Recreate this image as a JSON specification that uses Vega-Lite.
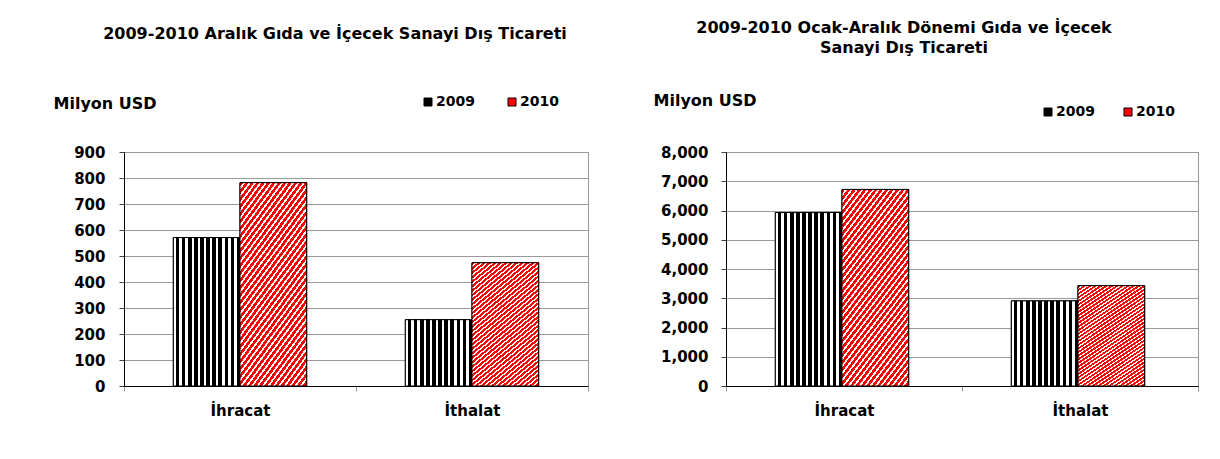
{
  "$schema": "https://vega.github.io/schema/vega-lite/v6.json",
  "background": "white",
  "padding": {"left": 52, "top": 19, "right": 5, "bottom": 5},
  "params": [
    {"name": "gradA", "value": {"gradient": "linear", "x1": 0, "y1": 0, "x2": 1, "y2": 0, "stops": [
      {"offset": 0, "color": "#fff"}, {"offset": 0.0409, "color": "#fff"}, {"offset": 0.0409, "color": "#000"}, {"offset": 0.0909, "color": "#000"},
      {"offset": 0.0909, "color": "#fff"}, {"offset": 0.1318, "color": "#fff"}, {"offset": 0.1318, "color": "#000"}, {"offset": 0.1818, "color": "#000"},
      {"offset": 0.1818, "color": "#fff"}, {"offset": 0.2227, "color": "#fff"}, {"offset": 0.2227, "color": "#000"}, {"offset": 0.2727, "color": "#000"},
      {"offset": 0.2727, "color": "#fff"}, {"offset": 0.3136, "color": "#fff"}, {"offset": 0.3136, "color": "#000"}, {"offset": 0.3636, "color": "#000"},
      {"offset": 0.3636, "color": "#fff"}, {"offset": 0.4045, "color": "#fff"}, {"offset": 0.4045, "color": "#000"}, {"offset": 0.4545, "color": "#000"},
      {"offset": 0.4545, "color": "#fff"}, {"offset": 0.4955, "color": "#fff"}, {"offset": 0.4955, "color": "#000"}, {"offset": 0.5455, "color": "#000"},
      {"offset": 0.5455, "color": "#fff"}, {"offset": 0.5864, "color": "#fff"}, {"offset": 0.5864, "color": "#000"}, {"offset": 0.6364, "color": "#000"},
      {"offset": 0.6364, "color": "#fff"}, {"offset": 0.6773, "color": "#fff"}, {"offset": 0.6773, "color": "#000"}, {"offset": 0.7273, "color": "#000"},
      {"offset": 0.7273, "color": "#fff"}, {"offset": 0.7682, "color": "#fff"}, {"offset": 0.7682, "color": "#000"}, {"offset": 0.8182, "color": "#000"},
      {"offset": 0.8182, "color": "#fff"}, {"offset": 0.8591, "color": "#fff"}, {"offset": 0.8591, "color": "#000"}, {"offset": 0.9091, "color": "#000"},
      {"offset": 0.9091, "color": "#fff"}, {"offset": 0.95, "color": "#fff"}, {"offset": 0.95, "color": "#000"}, {"offset": 1, "color": "#000"}
    ]}},
    {"name": "gradB", "value": {"gradient": "linear", "x1": 0, "y1": 0, "x2": 0.54, "y2": 1.21, "stops": [
      {"offset": 0, "color": "#f00"}, {"offset": 0.015, "color": "#f00"}, {"offset": 0.015, "color": "#fff"}, {"offset": 0.025, "color": "#fff"},
      {"offset": 0.025, "color": "#f00"}, {"offset": 0.04, "color": "#f00"}, {"offset": 0.04, "color": "#fff"}, {"offset": 0.05, "color": "#fff"},
      {"offset": 0.05, "color": "#f00"}, {"offset": 0.065, "color": "#f00"}, {"offset": 0.065, "color": "#fff"}, {"offset": 0.075, "color": "#fff"},
      {"offset": 0.075, "color": "#f00"}, {"offset": 0.09, "color": "#f00"}, {"offset": 0.09, "color": "#fff"}, {"offset": 0.1, "color": "#fff"},
      {"offset": 0.1, "color": "#f00"}, {"offset": 0.115, "color": "#f00"}, {"offset": 0.115, "color": "#fff"}, {"offset": 0.125, "color": "#fff"},
      {"offset": 0.125, "color": "#f00"}, {"offset": 0.14, "color": "#f00"}, {"offset": 0.14, "color": "#fff"}, {"offset": 0.15, "color": "#fff"},
      {"offset": 0.15, "color": "#f00"}, {"offset": 0.165, "color": "#f00"}, {"offset": 0.165, "color": "#fff"}, {"offset": 0.175, "color": "#fff"},
      {"offset": 0.175, "color": "#f00"}, {"offset": 0.19, "color": "#f00"}, {"offset": 0.19, "color": "#fff"}, {"offset": 0.2, "color": "#fff"},
      {"offset": 0.2, "color": "#f00"}, {"offset": 0.215, "color": "#f00"}, {"offset": 0.215, "color": "#fff"}, {"offset": 0.225, "color": "#fff"},
      {"offset": 0.225, "color": "#f00"}, {"offset": 0.24, "color": "#f00"}, {"offset": 0.24, "color": "#fff"}, {"offset": 0.25, "color": "#fff"},
      {"offset": 0.25, "color": "#f00"}, {"offset": 0.265, "color": "#f00"}, {"offset": 0.265, "color": "#fff"}, {"offset": 0.275, "color": "#fff"},
      {"offset": 0.275, "color": "#f00"}, {"offset": 0.29, "color": "#f00"}, {"offset": 0.29, "color": "#fff"}, {"offset": 0.3, "color": "#fff"},
      {"offset": 0.3, "color": "#f00"}, {"offset": 0.315, "color": "#f00"}, {"offset": 0.315, "color": "#fff"}, {"offset": 0.325, "color": "#fff"},
      {"offset": 0.325, "color": "#f00"}, {"offset": 0.34, "color": "#f00"}, {"offset": 0.34, "color": "#fff"}, {"offset": 0.35, "color": "#fff"},
      {"offset": 0.35, "color": "#f00"}, {"offset": 0.365, "color": "#f00"}, {"offset": 0.365, "color": "#fff"}, {"offset": 0.375, "color": "#fff"},
      {"offset": 0.375, "color": "#f00"}, {"offset": 0.39, "color": "#f00"}, {"offset": 0.39, "color": "#fff"}, {"offset": 0.4, "color": "#fff"},
      {"offset": 0.4, "color": "#f00"}, {"offset": 0.415, "color": "#f00"}, {"offset": 0.415, "color": "#fff"}, {"offset": 0.425, "color": "#fff"},
      {"offset": 0.425, "color": "#f00"}, {"offset": 0.44, "color": "#f00"}, {"offset": 0.44, "color": "#fff"}, {"offset": 0.45, "color": "#fff"},
      {"offset": 0.45, "color": "#f00"}, {"offset": 0.465, "color": "#f00"}, {"offset": 0.465, "color": "#fff"}, {"offset": 0.475, "color": "#fff"},
      {"offset": 0.475, "color": "#f00"}, {"offset": 0.49, "color": "#f00"}, {"offset": 0.49, "color": "#fff"}, {"offset": 0.5, "color": "#fff"},
      {"offset": 0.5, "color": "#f00"}, {"offset": 0.515, "color": "#f00"}, {"offset": 0.515, "color": "#fff"}, {"offset": 0.525, "color": "#fff"},
      {"offset": 0.525, "color": "#f00"}, {"offset": 0.54, "color": "#f00"}, {"offset": 0.54, "color": "#fff"}, {"offset": 0.55, "color": "#fff"},
      {"offset": 0.55, "color": "#f00"}, {"offset": 0.565, "color": "#f00"}, {"offset": 0.565, "color": "#fff"}, {"offset": 0.575, "color": "#fff"},
      {"offset": 0.575, "color": "#f00"}, {"offset": 0.59, "color": "#f00"}, {"offset": 0.59, "color": "#fff"}, {"offset": 0.6, "color": "#fff"},
      {"offset": 0.6, "color": "#f00"}, {"offset": 0.615, "color": "#f00"}, {"offset": 0.615, "color": "#fff"}, {"offset": 0.625, "color": "#fff"},
      {"offset": 0.625, "color": "#f00"}, {"offset": 0.64, "color": "#f00"}, {"offset": 0.64, "color": "#fff"}, {"offset": 0.65, "color": "#fff"},
      {"offset": 0.65, "color": "#f00"}, {"offset": 0.665, "color": "#f00"}, {"offset": 0.665, "color": "#fff"}, {"offset": 0.675, "color": "#fff"},
      {"offset": 0.675, "color": "#f00"}, {"offset": 0.69, "color": "#f00"}, {"offset": 0.69, "color": "#fff"}, {"offset": 0.7, "color": "#fff"},
      {"offset": 0.7, "color": "#f00"}, {"offset": 0.715, "color": "#f00"}, {"offset": 0.715, "color": "#fff"}, {"offset": 0.725, "color": "#fff"},
      {"offset": 0.725, "color": "#f00"}, {"offset": 0.74, "color": "#f00"}, {"offset": 0.74, "color": "#fff"}, {"offset": 0.75, "color": "#fff"},
      {"offset": 0.75, "color": "#f00"}, {"offset": 0.765, "color": "#f00"}, {"offset": 0.765, "color": "#fff"}, {"offset": 0.775, "color": "#fff"},
      {"offset": 0.775, "color": "#f00"}, {"offset": 0.79, "color": "#f00"}, {"offset": 0.79, "color": "#fff"}, {"offset": 0.8, "color": "#fff"},
      {"offset": 0.8, "color": "#f00"}, {"offset": 0.815, "color": "#f00"}, {"offset": 0.815, "color": "#fff"}, {"offset": 0.825, "color": "#fff"},
      {"offset": 0.825, "color": "#f00"}, {"offset": 0.84, "color": "#f00"}, {"offset": 0.84, "color": "#fff"}, {"offset": 0.85, "color": "#fff"},
      {"offset": 0.85, "color": "#f00"}, {"offset": 0.865, "color": "#f00"}, {"offset": 0.865, "color": "#fff"}, {"offset": 0.875, "color": "#fff"},
      {"offset": 0.875, "color": "#f00"}, {"offset": 0.89, "color": "#f00"}, {"offset": 0.89, "color": "#fff"}, {"offset": 0.9, "color": "#fff"},
      {"offset": 0.9, "color": "#f00"}, {"offset": 0.915, "color": "#f00"}, {"offset": 0.915, "color": "#fff"}, {"offset": 0.925, "color": "#fff"},
      {"offset": 0.925, "color": "#f00"}, {"offset": 0.94, "color": "#f00"}, {"offset": 0.94, "color": "#fff"}, {"offset": 0.95, "color": "#fff"},
      {"offset": 0.95, "color": "#f00"}, {"offset": 0.965, "color": "#f00"}, {"offset": 0.965, "color": "#fff"}, {"offset": 0.975, "color": "#fff"},
      {"offset": 0.975, "color": "#f00"}, {"offset": 0.99, "color": "#f00"}, {"offset": 0.99, "color": "#fff"}, {"offset": 1, "color": "#fff"}
    ]}}
  ],
  "hconcat": [
    {
      "title": {"text": "2009-2010 Aralık Gıda ve İçecek Sanayi Dış Ticareti", "dx": -21, "offset": 53},
      "width": 464,
      "height": 234,
      "data": {"values": [
        {"kategori": "İhracat", "yil": "2009", "deger": 571},
        {"kategori": "İhracat", "yil": "2010", "deger": 782},
        {"kategori": "İthalat", "yil": "2009", "deger": 255},
        {"kategori": "İthalat", "yil": "2010", "deger": 474}
      ]},
      "encoding": {
        "x": {"field": "kategori", "type": "nominal", "sort": null, "scale": {"paddingInner": 0, "paddingOuter": 0},
          "axis": {"title": null, "labelAngle": 0, "tickBand": "extent", "ticks": true, "tickColor": "#999", "tickSize": 5, "labelPadding": 12, "grid": false}},
        "xOffset": {"field": "yil", "type": "nominal", "scale": {"paddingInner": 0, "paddingOuter": 0.74}},
        "y": {"field": "deger", "type": "quantitative", "scale": {"domain": [0, 900], "nice": false},
          "axis": {"title": "Milyon USD", "titleAngle": 0, "titleAlign": "left", "titleBaseline": "middle", "titleX": -71, "titleY": -49,
            "values": [0, 100, 200, 300, 400, 500, 600, 700, 800, 900], "format": ".0f", "labelPadding": 14, "tickSize": 5, "tickColor": "#404040"}}
      },
      "layer": [
        {
          "mark": {"type": "bar", "stroke": "black", "strokeWidth": 1},
          "encoding": {
            "fill": {"field": "yil", "type": "nominal", "scale": {"range": ["#000000", "#ff0000"]},
              "legend": {"orient": "none", "legendX": 297, "legendY": -57, "direction": "horizontal", "title": null,
                "symbolType": "square", "symbolSize": 64, "symbolStrokeWidth": 1, "symbolStrokeColor": "black", "labelOffset": 1, "columnPadding": 30, "padding": 0}}
          }
        },
        {
          "mark": {"type": "bar", "stroke": "black", "strokeWidth": 1},
          "encoding": {
            "fill": {"condition": {"test": "datum.yil === '2009'", "value": {"expr": "gradA"}}, "value": {"expr": "gradB"}}
          }
        }
      ]
    },
    {
      "title": {"text": ["2009-2010 Ocak-Aralık Dönemi Gıda ve İçecek", "Sanayi Dış Ticareti"], "dx": -58, "offset": 36, "lineHeight": 20},
      "width": 472,
      "height": 234,
      "data": {"values": [
        {"kategori": "İhracat", "yil": "2009", "deger": 5930},
        {"kategori": "İhracat", "yil": "2010", "deger": 6720},
        {"kategori": "İthalat", "yil": "2009", "deger": 2910},
        {"kategori": "İthalat", "yil": "2010", "deger": 3430}
      ]},
      "encoding": {
        "x": {"field": "kategori", "type": "nominal", "sort": null, "scale": {"paddingInner": 0, "paddingOuter": 0},
          "axis": {"title": null, "labelAngle": 0, "tickBand": "extent", "ticks": true, "tickColor": "#999", "tickSize": 5, "labelPadding": 12, "grid": false}},
        "xOffset": {"field": "yil", "type": "nominal", "scale": {"paddingInner": 0, "paddingOuter": 0.75}},
        "y": {"field": "deger", "type": "quantitative", "scale": {"domain": [0, 8000], "nice": false},
          "axis": {"title": "Milyon USD", "titleAngle": 0, "titleAlign": "left", "titleBaseline": "middle", "titleX": -73, "titleY": -52,
            "values": [0, 1000, 2000, 3000, 4000, 5000, 6000, 7000, 8000], "format": ",.0f", "labelPadding": 13, "tickSize": 5, "tickColor": "#404040"}}
      },
      "layer": [
        {
          "mark": {"type": "bar", "stroke": "black", "strokeWidth": 1},
          "encoding": {
            "fill": {"field": "yil", "type": "nominal", "scale": {"range": ["#000000", "#ff0000"]},
              "legend": {"orient": "none", "legendX": 315, "legendY": -47, "direction": "horizontal", "title": null,
                "symbolType": "square", "symbolSize": 64, "symbolStrokeWidth": 1, "symbolStrokeColor": "black", "labelOffset": 1, "columnPadding": 26, "padding": 0}}
          }
        },
        {
          "mark": {"type": "bar", "stroke": "black", "strokeWidth": 1},
          "encoding": {
            "fill": {"condition": {"test": "datum.yil === '2009'", "value": {"expr": "gradA"}}, "value": {"expr": "gradB"}}
          }
        }
      ]
    }
  ],
  "spacing": 138,
  "bounds": "flush",
  "resolve": {"scale": {"fill": "independent"}, "legend": {"fill": "independent"}},
  "config": {
    "view": {"stroke": "#999", "strokeWidth": 1},
    "font": "DejaVu Sans",
    "axis": {"labelFont": "DejaVu Sans", "labelFontWeight": "bold", "labelFontSize": 15, "labelColor": "black",
      "titleFont": "DejaVu Sans", "titleFontWeight": "bold", "titleFontSize": 16, "titleColor": "black",
      "gridColor": "#999", "gridWidth": 1, "domainColor": "black", "domainWidth": 1},
    "legend": {"labelFont": "DejaVu Sans", "labelFontWeight": "bold", "labelFontSize": 14, "labelColor": "black"},
    "title": {"font": "DejaVu Sans", "fontWeight": "bold", "fontSize": 16, "color": "black", "anchor": "middle"}
  }
}
